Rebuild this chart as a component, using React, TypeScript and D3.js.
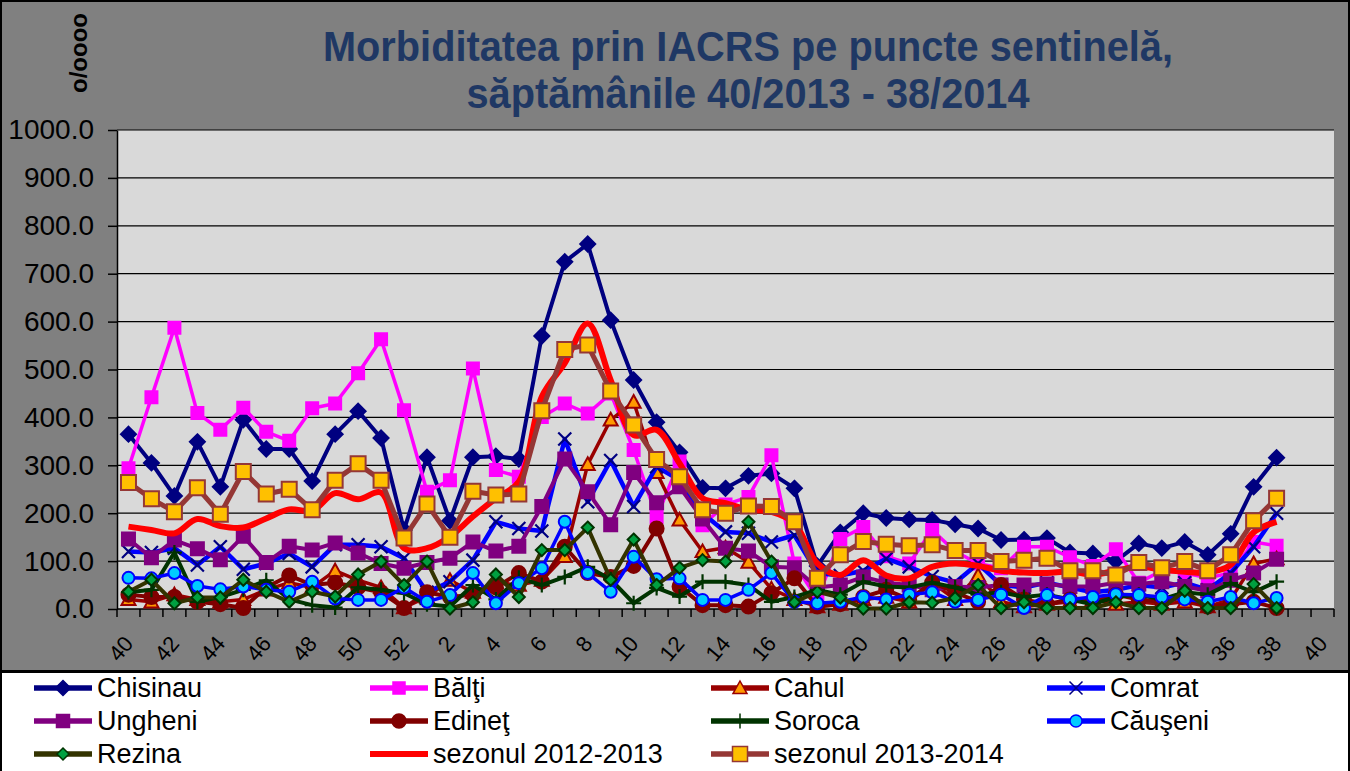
import { useRef, useEffect } from 'react'
import * as d3 from 'd3'

// weeks 40/2013 ... 52/2013, 1/2014 ... 40/2014
const weeks = [40, 41, 42, 43, 44, 45, 46, 47, 48, 49, 50, 51, 52,
    1, 2, 3, 4, 5, 6, 7, 8, 9, 10, 11, 12, 13, 14, 15, 16, 17, 18, 19, 20,
    21, 22, 23, 24, 25, 26, 27, 28, 29, 30, 31, 32, 33, 34, 35, 36, 37, 38, 39, 40]

const yTicks = [0, 100, 200, 300, 400, 500, 600, 700, 800, 900, 1000]

const chisinau = [365, 305, 236, 349, 255, 395, 334, 334, 267, 365, 413, 357, 165, 317, 184, 317, 319, 313, 570, 725, 762, 603, 478, 390, 327, 253, 252, 278, 283, 252, 90, 160, 200, 190, 187, 186, 177, 168, 144, 145, 148, 118, 116, 100, 137, 127, 140, 113, 157, 255, 316]
const balti = [294, 442, 587, 409, 374, 420, 370, 351, 419, 429, 492, 563, 415, 245, 269, 502, 290, 276, 401, 429, 408, 450, 332, 192, 308, 175, 218, 234, 321, 95, 20, 146, 171, 110, 95, 165, 120, 95, 85, 130, 130, 108, 90, 125, 55, 80, 75, 65, 75, 140, 132]
const cahul = [20, 15, 30, 20, 15, 20, 40, 55, 45, 80, 60, 45, 3, 25, 60, 35, 55, 50, 60, 110, 302, 395, 432, 285, 186, 120, 128, 98, 42, 20, 5, 10, 20, 25, 15, 55, 20, 70, 15, 5, 10, 15, 20, 10, 15, 10, 15, 5, 20, 95, 105]
const comrat = [120, 118, 127, 92, 130, 83, 95, 116, 88, 134, 134, 130, 106, 35, 57, 102, 182, 168, 163, 355, 224, 310, 214, 297, 269, 200, 161, 158, 140, 154, 75, 70, 80, 105, 88, 68, 55, 95, 50, 45, 55, 45, 35, 40, 50, 45, 55, 40, 75, 130, 200]
const ungheni = [146, 107, 144, 126, 103, 152, 97, 131, 123, 138, 117, 95, 85, 97, 106, 140, 121, 131, 214, 313, 245, 176, 285, 222, 255, 188, 127, 121, 88, 86, 45, 50, 67, 55, 50, 40, 47, 45, 50, 50, 52, 47, 47, 55, 52, 57, 47, 38, 60, 75, 104]
const edinet = [30, 25, 25, 15, 10, 2, 45, 70, 50, 55, 45, 35, 2, 35, 25, 30, 45, 75, 57, 130, 75, 67, 90, 168, 47, 8, 8, 5, 33, 64, 5, 10, 25, 40, 20, 55, 35, 15, 50, 20, 10, 20, 15, 30, 20, 15, 25, 5, 10, 15, 2]
const soroca = [35, 40, 118, 15, 25, 40, 60, 20, 8, 3, 45, 40, 33, 10, 5, 50, 20, 65, 50, 67, 88, 62, 12, 44, 26, 57, 57, 50, 15, 25, 40, 30, 57, 47, 45, 55, 45, 30, 35, 25, 30, 20, 10, 25, 30, 20, 35, 30, 54, 35, 57]
const causeni = [65, 64, 75, 48, 41, 47, 40, 36, 57, 22, 19, 19, 45, 15, 29, 75, 12, 54, 85, 182, 75, 36, 109, 62, 64, 19, 19, 40, 75, 15, 12, 15, 25, 20, 30, 35, 15, 19, 30, 2, 29, 20, 25, 31, 29, 25, 20, 15, 25, 12, 23]
const rezina = [36, 61, 12, 24, 24, 61, 36, 15, 36, 26, 72, 99, 50, 99, 1, 14, 72, 25, 123, 123, 170, 61, 145, 50, 86, 102, 99, 182, 99, 14, 36, 24, 1, 1, 14, 13, 23, 50, 2, 14, 2, 2, 2, 14, 2, 2, 38, 2, 2, 52, 2]
const season1213 = [172, 165, 158, 188, 173, 170, 189, 208, 205, 242, 229, 243, 127, 127, 151, 193, 231, 266, 443, 513, 596, 478, 363, 374, 304, 231, 221, 207, 203, 179, 95, 71, 102, 70, 64, 88, 95, 90, 80, 76, 75, 78, 72, 80, 88, 82, 78, 76, 92, 160, 182]
const season1314 = [264, 230, 203, 253, 198, 287, 240, 250, 207, 269, 303, 269, 148, 219, 150, 246, 238, 240, 414, 542, 551, 455, 384, 312, 276, 207, 200, 215, 214, 182, 64, 113, 141, 135, 132, 134, 122, 122, 99, 102, 106, 80, 80, 71, 97, 86, 99, 80, 113, 184, 231]

const series = [
    { name: 'Chisinau', values: chisinau, stroke: '#000080', lw: 4, marker: 'diamond', r: 7.5, fill: '#000080', mStroke: '#000080' },
    { name: 'Bălţi', values: balti, stroke: '#FF00FF', lw: 3.5, marker: 'square', r: 6, fill: '#FF00FF', mStroke: '#FF00FF' },
    { name: 'Cahul', values: cahul, stroke: '#990000', lw: 3.5, marker: 'triangle', r: 7, fill: '#FF9900', mStroke: '#990000' },
    { name: 'Comrat', values: comrat, stroke: '#0000FF', lw: 4.5, marker: 'x', r: 6.5, fill: 'none', mStroke: '#000080' },
    { name: 'Ungheni', values: ungheni, stroke: '#800080', lw: 4, marker: 'square', r: 6.5, fill: '#800080', mStroke: '#800080' },
    { name: 'Edineţ', values: edinet, stroke: '#800000', lw: 4, marker: 'circle', r: 7, fill: '#800000', mStroke: '#800000' },
    { name: 'Soroca', values: soroca, stroke: '#003300', lw: 4, marker: 'plus', r: 7.5, fill: 'none', mStroke: '#003300' },
    { name: 'Căuşeni', values: causeni, stroke: '#0000FF', lw: 3.5, marker: 'circle', r: 6, fill: '#00CCFF', mStroke: '#0000FF' },
    { name: 'Rezina', values: rezina, stroke: '#333300', lw: 4, marker: 'diamond', r: 6, fill: '#00A040', mStroke: '#003300' },
    { name: 'sezonul 2012-2013', values: season1213, stroke: '#FF0000', lw: 6, marker: null, r: 0, fill: 'none', mStroke: 'none', smooth: true },
    { name: 'sezonul 2013-2014', values: season1314, stroke: '#953735', lw: 5, marker: 'square', r: 7.5, fill: '#FFC000', mStroke: '#953735' },
]

const dimensions = {
    width: 1350,
    height: 771,
    plotLeft: 117,
    plotRight: 1334,
    plotTop: 130,
    plotBottom: 609,
}

const font = 'Liberation Sans, Arial, sans-serif'

const markerPath = (type: string, r: number) => {
    switch (type) {
        case 'diamond': return `M0,${-r}L${r},0L0,${r}L${-r},0Z`
        case 'square': return `M${-r},${-r}H${r}V${r}H${-r}Z`
        case 'triangle': return `M0,${-r}L${r},${r * 0.8}L${-r},${r * 0.8}Z`
        case 'circle': return `M${-r},0A${r},${r} 0 1,0 ${r},0A${r},${r} 0 1,0 ${-r},0Z`
        case 'x': return `M${-r},${-r}L${r},${r}M${-r},${r}L${r},${-r}`
        case 'plus': return `M${-r},0H${r}M0,${-r}V${r}`
        default: return ''
    }
}

const App = () => {

    const ref = useRef<SVGSVGElement>(null)

    useEffect(() => {
        const svg = d3.select(ref.current)
        svg.selectAll('*').remove()

        const x = d3.scaleBand<number>()
            .domain(weeks.map((_, i) => i))
            .range([dimensions.plotLeft, dimensions.plotRight])
        const bw = x.bandwidth()
        const cx = (i: number) => (x(i) as number) + bw / 2

        const y = d3.scaleLinear()
            .domain([0, 1000])
            .range([dimensions.plotBottom, dimensions.plotTop])

        // background
        svg.append('rect')
            .attr('x', 1).attr('y', 1)
            .attr('width', dimensions.width - 2).attr('height', 670)
            .attr('fill', '#808080')
            .attr('stroke', '#000').attr('stroke-width', 2)

        svg.append('rect')
            .attr('x', 1).attr('y', 672)
            .attr('width', dimensions.width - 2).attr('height', 110)
            .attr('fill', '#fff')
            .attr('stroke', '#000').attr('stroke-width', 2)

        svg.append('rect')
            .attr('x', dimensions.plotLeft).attr('y', dimensions.plotTop)
            .attr('width', dimensions.plotRight - dimensions.plotLeft)
            .attr('height', dimensions.plotBottom - dimensions.plotTop)
            .attr('fill', '#D9D9D9')

        // title
        const title = svg.append('g')
            .attr('font-family', font)
            .attr('font-weight', 'bold')
            .attr('font-size', 43)
            .attr('fill', '#1F3864')
            .attr('text-anchor', 'middle')
        title.append('text')
            .attr('x', 748).attr('y', 61)
            .attr('textLength', 850).attr('lengthAdjust', 'spacingAndGlyphs')
            .text('Morbiditatea prin IACRS pe puncte sentinelă,')
        title.append('text')
            .attr('x', 748).attr('y', 108)
            .attr('textLength', 563).attr('lengthAdjust', 'spacingAndGlyphs')
            .text('săptămânile 40/2013 - 38/2014')

        svg.append('text')
            .attr('transform', 'translate(87,53) rotate(-90)')
            .attr('text-anchor', 'middle')
            .attr('font-family', font)
            .attr('font-weight', 'bold')
            .attr('font-size', 24)
            .attr('fill', '#000')
            .text('o/oooo')

        // gridlines
        svg.append('g')
            .selectAll('line')
            .data(yTicks.filter(d => d > 0))
            .enter()
            .append('line')
            .attr('x1', dimensions.plotLeft).attr('x2', dimensions.plotRight)
            .attr('y1', d => y(d)).attr('y2', d => y(d))
            .attr('stroke', '#000').attr('stroke-width', 1.2)

        // y axis
        const yAxis = d3.axisLeft(y)
            .tickValues(yTicks)
            .tickFormat(d3.format('.1f'))
            .tickSize(9)
            .tickPadding(14)
            .tickSizeOuter(0)
        const yAxisGroup = svg.append('g')
            .attr('transform', `translate(${dimensions.plotLeft},0)`)
            .call(yAxis)
        yAxisGroup.selectAll('text')
            .attr('font-family', font)
            .attr('font-size', 28)
            .attr('fill', '#000')
        yAxisGroup.selectAll('line, path').attr('stroke', '#000').attr('stroke-width', 1.5)

        // x axis: ticks at category boundaries, labels every second week
        svg.append('line')
            .attr('x1', dimensions.plotLeft).attr('x2', dimensions.plotRight)
            .attr('y1', dimensions.plotBottom).attr('y2', dimensions.plotBottom)
            .attr('stroke', '#000').attr('stroke-width', 1.5)
        svg.append('g')
            .selectAll('line')
            .data(d3.range(weeks.length + 1))
            .enter()
            .append('line')
            .attr('x1', i => dimensions.plotLeft + i * bw)
            .attr('x2', i => dimensions.plotLeft + i * bw)
            .attr('y1', dimensions.plotBottom).attr('y2', dimensions.plotBottom + 8)
            .attr('stroke', '#000').attr('stroke-width', 1.5)
        svg.append('g')
            .selectAll('text')
            .data(weeks.map((w, i) => ({ w, i })).filter(d => d.i % 2 === 0))
            .enter()
            .append('text')
            .attr('transform', d => `translate(${cx(d.i) + 6},644) rotate(-50)`)
            .attr('text-anchor', 'end')
            .attr('font-family', font)
            .attr('font-size', 22)
            .attr('fill', '#000')
            .text(d => d.w)

        // series
        const plot = svg.append('g')
        series.forEach(s => {
            const line = d3.line<number>()
                .x((_, i) => cx(i))
                .y(d => y(d))
                .curve(s.smooth ? d3.curveCatmullRom.alpha(0.5) : d3.curveLinear)
            plot.append('path')
                .datum(s.values)
                .attr('d', line)
                .attr('fill', 'none')
                .attr('stroke', s.stroke)
                .attr('stroke-width', s.lw)
                .attr('stroke-linejoin', 'round')
            if (s.marker) {
                plot.append('g')
                    .selectAll('path')
                    .data(s.values)
                    .enter()
                    .append('path')
                    .attr('transform', (d, i) => `translate(${cx(i)},${y(d)})`)
                    .attr('d', markerPath(s.marker, s.r))
                    .attr('fill', s.fill)
                    .attr('stroke', s.mStroke)
                    .attr('stroke-width', s.marker === 'x' || s.marker === 'plus' ? 2.2 : 2)
            }
        })

        // legend
        const colX = [34, 370, 711, 1047]
        const rowY = [688, 721, 754]
        const legend = svg.append('g')
            .selectAll('g')
            .data(series)
            .enter()
            .append('g')
            .attr('transform', (_, i) => `translate(${colX[i % 4]},${rowY[Math.floor(i / 4)]})`)
        legend.append('line')
            .attr('x1', 0).attr('x2', 58)
            .attr('stroke', d => d.stroke)
            .attr('stroke-width', d => Math.max(d.lw, 5.5))
        legend.filter(d => !!d.marker)
            .append('path')
            .attr('transform', 'translate(29,0)')
            .attr('d', d => markerPath(d.marker as string, d.r))
            .attr('fill', d => d.fill)
            .attr('stroke', d => d.mStroke)
            .attr('stroke-width', 1.5)
        legend.append('text')
            .attr('x', 63)
            .attr('y', 9)
            .attr('font-family', font)
            .attr('font-size', 27)
            .attr('fill', '#000')
            .text(d => d.name)
    }, [])

    return (
        <svg
            ref={ref}
            width={dimensions.width}
            height={dimensions.height}
            style={{ position: 'absolute', left: 0, top: 0, display: 'block' }}
        />
    )
}

export default App
